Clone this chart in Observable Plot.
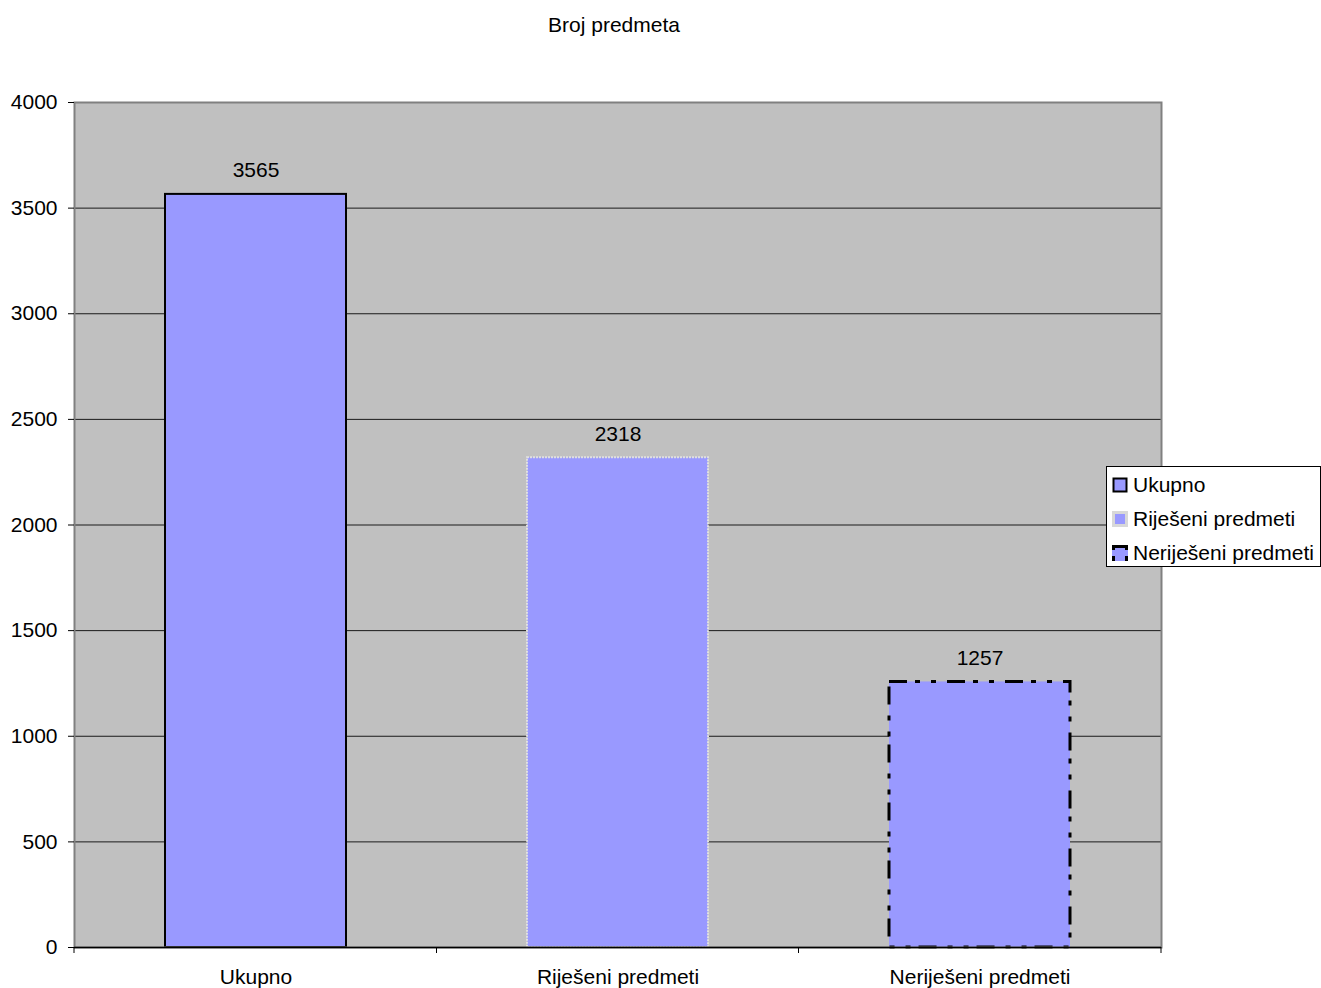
<!DOCTYPE html>
<html><head><meta charset="utf-8">
<script src="https://cdn.jsdelivr.net/npm/d3@7"></script>
<script src="https://cdn.jsdelivr.net/npm/@observablehq/plot@0.6"></script>
<style>
body{margin:0;background:#fff;font-family:"Liberation Sans",Arial,sans-serif;}
#wrap{position:relative;width:1321px;height:988px;overflow:hidden;}
#title{position:absolute;left:67px;width:1094px;top:0;height:50px;line-height:50px;text-align:center;font-size:21px;color:#000;}
#chart{position:absolute;left:0;top:50px;}
#legend{position:absolute;left:1106px;top:466px;width:213px;height:99px;border:1px solid #000;background:#fff;font-size:21px;color:#000;}
.item{position:absolute;left:5px;height:34px;display:flex;align-items:center;white-space:nowrap;}
.item svg{margin-right:5px;}
</style>
</head><body>
<div id="wrap">
  <div id="title"></div>
  <div id="chart"></div>
  <div id="legend"></div>
</div>
<script>
const titleText = "Broj predmeta";
const categories = ["Ukupno", "Riješeni predmeti", "Neriješeni predmeti"];
const values = [3565, 2318, 1257];
const yTicks = [0, 500, 1000, 1500, 2000, 2500, 3000, 3500, 4000];
const gridTicks = [500, 1000, 1500, 2000, 2500, 3000, 3500];

const rows = categories.map((c, i) => ({cat: c, value: values[i]}));

const barStyles = [
  {stroke: "#000", strokeWidth: 2},
  {stroke: "#E0E0E0", strokeWidth: 2, strokeDasharray: "2,1"},
  {stroke: "#000", strokeWidth: 3, strokeDasharray: "18,8,5,11,5,11"}
];

document.getElementById("title").textContent = titleText;

function boundaryTicks(index, scales, values, dimensions) {
  const x = scales.x;
  const bw = typeof x.bandwidth === "function" ? x.bandwidth() : (scales.scales && scales.scales.x ? scales.scales.x.bandwidth : 0);
  const xs = [dimensions.marginLeft];
  for (let i = 0; i < categories.length - 1; i++) xs.push((x(categories[i]) + bw + x(categories[i + 1])) / 2);
  xs.push(dimensions.width - dimensions.marginRight);
  const y0 = dimensions.height - dimensions.marginBottom;
  const g = d3.create("svg:g");
  g.selectAll("line").data(xs).join("line")
    .attr("x1", d => d).attr("x2", d => d)
    .attr("y1", y0).attr("y2", y0 + 6)
    .attr("stroke", "#000").attr("stroke-width", 1);
  return g.node();
}

const barMarks = rows.map((r, i) => Plot.barY([r], {x: "cat", y: "value", fill: "#9999FF", ...barStyles[i]}));

const chart = Plot.plot({
  width: 1321,
  height: 938,
  marginTop: 52,
  marginBottom: 41,
  marginLeft: 74,
  marginRight: 160,
  style: {fontFamily: "Liberation Sans, Arial, sans-serif", fontSize: "21px", color: "#000", background: "transparent"},
  x: {domain: categories, paddingInner: 0.5, paddingOuter: 0.25, label: null},
  y: {domain: [0, 4000], label: null},
  marks: [
    Plot.frame({fill: "#C0C0C0", stroke: null}),
    Plot.ruleY(gridTicks, {stroke: "#1a1a1a", strokeWidth: 1}),
    ...barMarks,
    Plot.frame({stroke: "#808080", strokeWidth: 2}),
    Plot.ruleY([0], {stroke: "#000", strokeWidth: 1.5}),
    Plot.axisY({ticks: yTicks, tickSize: 6, tickPadding: 11, label: null, tickFormat: d => String(d)}),
    Plot.axisX({tickSize: 0, tickPadding: 22, label: null}),
    boundaryTicks,
    Plot.text(rows, {x: "cat", y: "value", text: d => String(d.value), dy: -24, fill: "#000"})
  ]
});
document.getElementById("chart").appendChild(chart);

// legend
const legendSwatches = [
  `<svg width="16" height="16"><rect x="1.5" y="1.5" width="13" height="13" fill="#9999FF" stroke="#000" stroke-width="2"/></svg>`,
  `<svg width="16" height="16"><rect x="0" y="0" width="16" height="16" fill="#D8D8D8"/><rect x="3" y="3" width="10" height="10" fill="#9999FF"/></svg>`,
  `<svg width="16" height="16"><rect x="0" y="0" width="16" height="16" fill="#9999FF"/><line x1="0" y1="1.5" x2="16" y2="1.5" stroke="#000" stroke-width="3"/><line x1="1.5" y1="0" x2="1.5" y2="16" stroke="#000" stroke-width="3" stroke-dasharray="5,6"/><line x1="14.5" y1="0" x2="14.5" y2="16" stroke="#000" stroke-width="3" stroke-dasharray="5,6"/></svg>`
];
const legend = document.getElementById("legend");
categories.forEach((c, i) => {
  const item = document.createElement("div");
  item.className = "item";
  item.style.top = (1 + i * 34) + "px";
  item.innerHTML = legendSwatches[i] + `<span>${c}</span>`;
  legend.appendChild(item);
});
</script>
</body></html>
